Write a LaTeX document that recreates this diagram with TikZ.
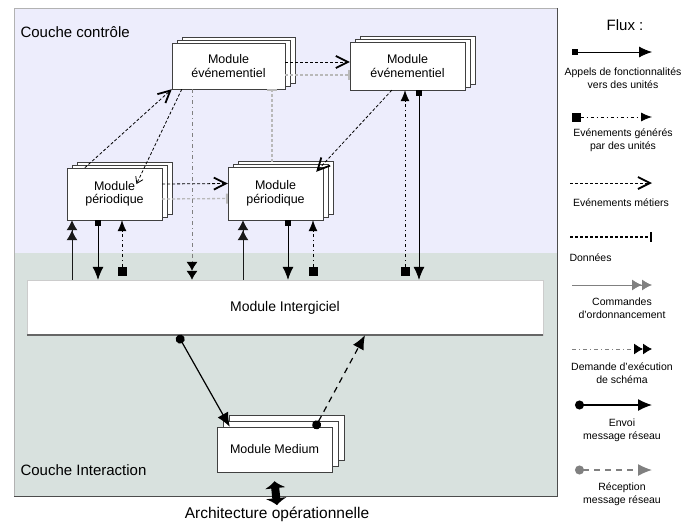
\documentclass[tikz,border=0pt]{standalone}
\usepackage{fontspec}
\setmainfont{Liberation Sans}
\usetikzlibrary{arrows.meta, shadows}

\definecolor{fondhaut}{RGB}{237,237,252}
\definecolor{fondbas}{RGB}{216,225,222}

\tikzset{ % styles of the flows
  >=Latex,
  module/.style={draw=black!75, fill=white, align=center, inner sep=0pt,
    font=\fontsize{12.5}{13.5}\selectfont},
  pile/.style={copy shadow={shadow xshift=10pt, shadow yshift=6pt},
    copy shadow={shadow xshift=5pt, shadow yshift=3pt}},
  flux/.style={line width=0.8pt},
  appel/.style={flux, black, {Square[length=6pt,width=6pt]}-{Latex[length=13pt,width=11pt]}},
  evgen/.style={flux, black, dash pattern=on 3pt off 3pt on 1pt off 3pt,
    {Square[length=9pt,width=9pt]}-{Latex[length=11pt,width=9pt]}},
  metier/.style={flux, black, dash pattern=on 3pt off 2pt,
    -{Straight Barb[length=12pt,width=12pt,line width=1.8pt]}},
  metierpetit/.style={flux, black, dash pattern=on 3pt off 2pt,
    -{Straight Barb[length=6pt,width=8pt]}},
  donnees/.style={gray!55, dash pattern=on 3pt off 2pt, line width=1.3pt,
    -{Bar[width=10pt,line width=1.8pt]}},
  ordo/.style={flux, black!90, -{Latex[length=10pt,width=11pt]Latex[length=10pt,width=11pt]}},
  schema/.style={flux, gray, dash pattern=on 4pt off 3pt on 1pt off 3pt,
    -{Latex[length=9pt,width=11pt,black]Latex[length=9pt,width=11pt,black]}},
  envoi/.style={black, line width=1.2pt,
    {Circle[length=9pt]}-{Latex[length=14pt,width=12pt]}},
  reception/.style={black, line width=1.2pt, dash pattern=on 6pt off 5pt,
    {Circle[length=9pt]}-{Latex[length=14pt,width=12pt]}},
  legende/.style={font=\fontsize{10.5}{13}\selectfont, align=center},
}

\begin{document}
\begin{tikzpicture}[x=1pt, y=-1pt]
\useasboundingbox (0,0) rectangle (689,523);
% the two layers
\fill[fondhaut] (14,8) rectangle (557,253);
\fill[fondbas] (14,253) rectangle (557,496);
\draw[gray!60] (14,8) rectangle (557,496);
\draw[black!70, line width=1pt] (557,8) -- (557,496) -- (14,496);
\node[anchor=west, font=\fontsize{15}{17}\selectfont] (chaut) at (17,32) {Couche contrôle};
\node[anchor=west, font=\fontsize{15}{17}\selectfont] (cbas) at (17,470) {Couche Interaction};

% modules
\node[module, pile, minimum width=113, minimum height=46] (ev1) at (228.5,66) {Module\\événementiel};
\node[module, pile, minimum width=115, minimum height=48] (ev2) at (407.5,66) {Module\\événementiel};
\node[module, pile, minimum width=95, minimum height=52] (per1) at (114.5,194) {Module\\périodique};
\node[module, pile, minimum width=95, minimum height=53] (per2) at (275.5,193.5) {Module\\périodique};
\node[module, draw=gray!40, minimum width=516, minimum height=55,
  font=\fontsize{14}{15}\selectfont] (inter) at (285,307.5) {Module Intergiciel};
\draw[black!60, line width=1.5pt] (inter.south west) -- (inter.south east);
\node[module, minimum width=115, minimum height=45,
  copy shadow={shadow xshift=12pt, shadow yshift=12pt},
  copy shadow={shadow xshift=6pt, shadow yshift=6pt}] (medium) at (274.5,449.5) {Module Medium};
\node[font=\fontsize{15.5}{17}\selectfont] (archi) at (277,514) {Architecture opérationnelle};

% control layer
\draw[metier] ([yshift=4pt]ev1.east) -- ([yshift=4pt]ev2.west);
\draw[donnees] ([yshift=-9pt]ev1.east) -- ([yshift=-9pt]ev2.west);
\draw[metier] ([xshift=18pt]per1.north west) -- (ev1.south west);
\draw[metierpetit] ([xshift=10pt]ev1.south west) -- ([shift={(22,-10)}]per1.center);
\draw[metier] ([xshift=42pt]ev2.south west) -- ([shift={(-7pt,-5pt)}]per2.north east);
\draw[metier] ([yshift=10pt]per1.east) -- ([yshift=10pt]per2.west);
\draw[donnees] ([yshift=-5pt]per1.east) -- ([yshift=-5pt]per2.west);
\draw[donnees] ([yshift=5pt]per2.north -| 272,0) -- (ev1.south -| 272,0);
\draw[schema] (ev1.south -| 192,0) -- (inter.north -| 192,0);

% towards the middleware
\draw[ordo] (inter.north -| 72,0) -- (per1.south -| 72,0);
\draw[appel] (per1.south -| 98,0) -- (inter.north -| 98,0);
\draw[evgen] ([yshift=4pt]inter.north -| 122,0) -- (per1.south -| 122,0);
\draw[ordo] (inter.north -| 243,0) -- (per2.south -| 243,0);
\draw[appel] (per2.south -| 288,0) -- (inter.north -| 288,0);
\draw[evgen] ([yshift=4pt]inter.north -| 313,0) -- (per2.south -| 313,0);
\draw[evgen] ([yshift=4pt]inter.north -| 405,0) -- (ev2.south -| 405,0);
\draw[appel] (ev2.south -| 419,0) -- (inter.north -| 419,0);

% interaction layer
\draw[envoi] (inter.south -| 178,0) -- ([xshift=13pt]medium.north west);
\draw[reception] ([xshift=40pt,yshift=-2pt]medium.north) -- (inter.south -| 365,0);
\draw[line width=8pt, {Latex[length=7pt,width=22pt]}-{Latex[length=7pt,width=22pt]}]
  ([yshift=-2pt]archi.north) -- ([yshift=-9pt]medium.south);

% legend
\node[font=\fontsize{15}{17}\selectfont] (flux) at (625,25) {Flux :};
\draw[appel] (572,52) -- (652,52);
\node[legende] (l1) at (623,78) {Appels de fonctionnalités\\vers des unités};
\draw[evgen] (572,117) -- (652,117);
\node[legende] (l2) at (623,140) {Evénements générés\\par des unités};
\draw[metier] (570,183) -- (652,183);
\node[legende] (l3) at (621,203) {Evénements métiers};
\draw[donnees, black] (570,237) -- (652,237);
\node[legende, anchor=west] (l4) at (566,258) {Données};
\draw[ordo, gray] (572,285) -- (652,285);
\node[legende] (l5) at (622,308) {Commandes\\d'ordonnancement};
\draw[schema] (572,349) -- (652,349);
\node[legende] (l6) at (622,373) {Demande d'exécution\\de schéma};
\draw[envoi] (575,405) -- (652,405);
\node[legende] (l7) at (622,430) {Envoi\\message réseau};
\draw[reception, gray] (575,470) -- (652,470);
\node[legende] (l8) at (622,494) {Réception\\message réseau};
\end{tikzpicture}
\end{document}
